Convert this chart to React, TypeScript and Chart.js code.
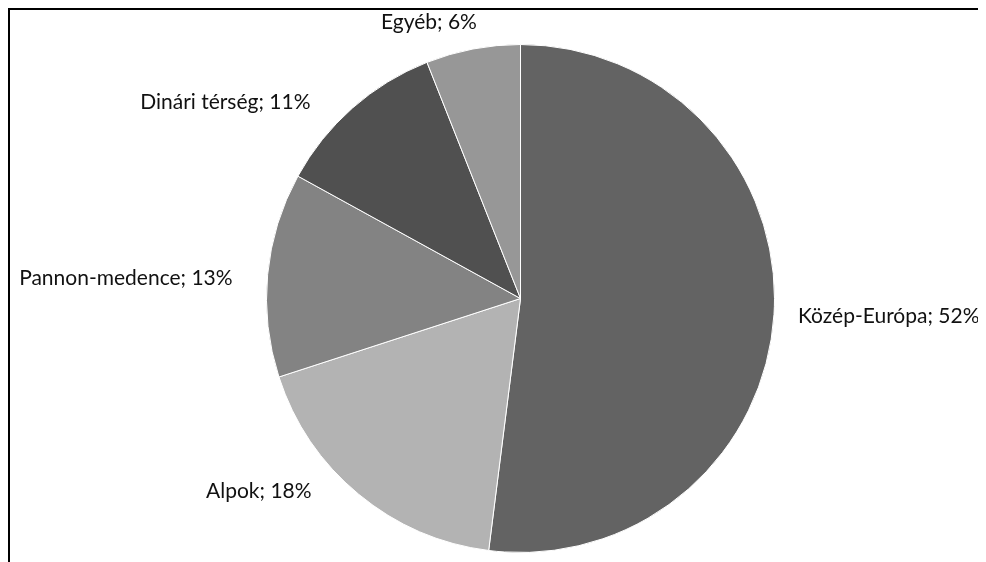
import React, { useEffect, useRef } from 'react';
import { Chart, registerables } from 'chart.js';

Chart.register(...registerables);

const categories = ['Közép-Európa', 'Alpok', 'Pannon-medence', 'Dinári térség', 'Egyéb'];
const shares = [52, 18, 13, 11, 6];
const sliceColors = ['#636363', '#b3b3b3', '#838383', '#505050', '#979797'];

const FONT = '21px Lato';

// label placement relative to each slice's outer mid-point (annotation layout only)
const labelPlacement: { align: CanvasTextAlign; dx: number; dy: number }[] = [
  { align: 'left', dx: 24, dy: 2 },
  { align: 'right', dx: -47, dy: -3 },
  { align: 'right', dx: -35, dy: 4 },
  { align: 'right', dx: -42, dy: -6 },
  { align: 'right', dx: 4, dy: -27 },
];

const borderPlugin = {
  id: 'frameBorder',
  beforeDraw(chart: any) {
    const ctx = chart.ctx;
    ctx.save();
    ctx.fillStyle = '#000000';
    ctx.fillRect(0, 0, chart.width, 2);
    ctx.fillRect(0, 0, 2, chart.height);
    ctx.restore();
  },
};

const labelPlugin = {
  id: 'sliceLabels',
  afterDatasetsDraw(chart: any) {
    const ctx = chart.ctx;
    const meta = chart.getDatasetMeta(0);
    ctx.save();
    ctx.font = FONT;
    ctx.fillStyle = '#111111';
    ctx.textBaseline = 'middle';
    meta.data.forEach((arc: any, i: number) => {
      const p = arc.getProps(['x', 'y', 'startAngle', 'endAngle', 'outerRadius'], true);
      const mid = (p.startAngle + p.endAngle) / 2;
      const ax = p.x + Math.cos(mid) * p.outerRadius;
      const ay = p.y + Math.sin(mid) * p.outerRadius;
      const pl = labelPlacement[i];
      ctx.textAlign = pl.align;
      ctx.fillText(`${categories[i]}; ${shares[i]}%`, ax + pl.dx, ay + pl.dy);
    });
    ctx.restore();
  },
};

export default function App() {
  const ref = useRef<HTMLCanvasElement | null>(null);
  useEffect(() => {
    if (!ref.current) return;
    const chart = new Chart(ref.current, {
      type: 'pie',
      data: {
        labels: categories,
        datasets: [
          {
            data: shares,
            backgroundColor: sliceColors,
            borderColor: '#ffffff',
            borderWidth: 1,
          },
        ],
      },
      options: {
        responsive: false,
        animation: false,
        layout: { padding: { top: 36, bottom: 9, left: 258, right: 211 } },
        plugins: {
          legend: { display: false },
          tooltip: { enabled: false },
        },
      },
      plugins: [borderPlugin, labelPlugin],
    });
    if ((document as any).fonts && (document as any).fonts.load) {
      (document as any).fonts.load(FONT).then(() => chart.draw()).catch(() => {});
    }
    return () => chart.destroy();
  }, []);
  return (
    <div style={{ width: 978, height: 554 }}>
      <canvas ref={ref} width={978} height={554} style={{ display: 'block', width: 978, height: 554 }} />
    </div>
  );
}
